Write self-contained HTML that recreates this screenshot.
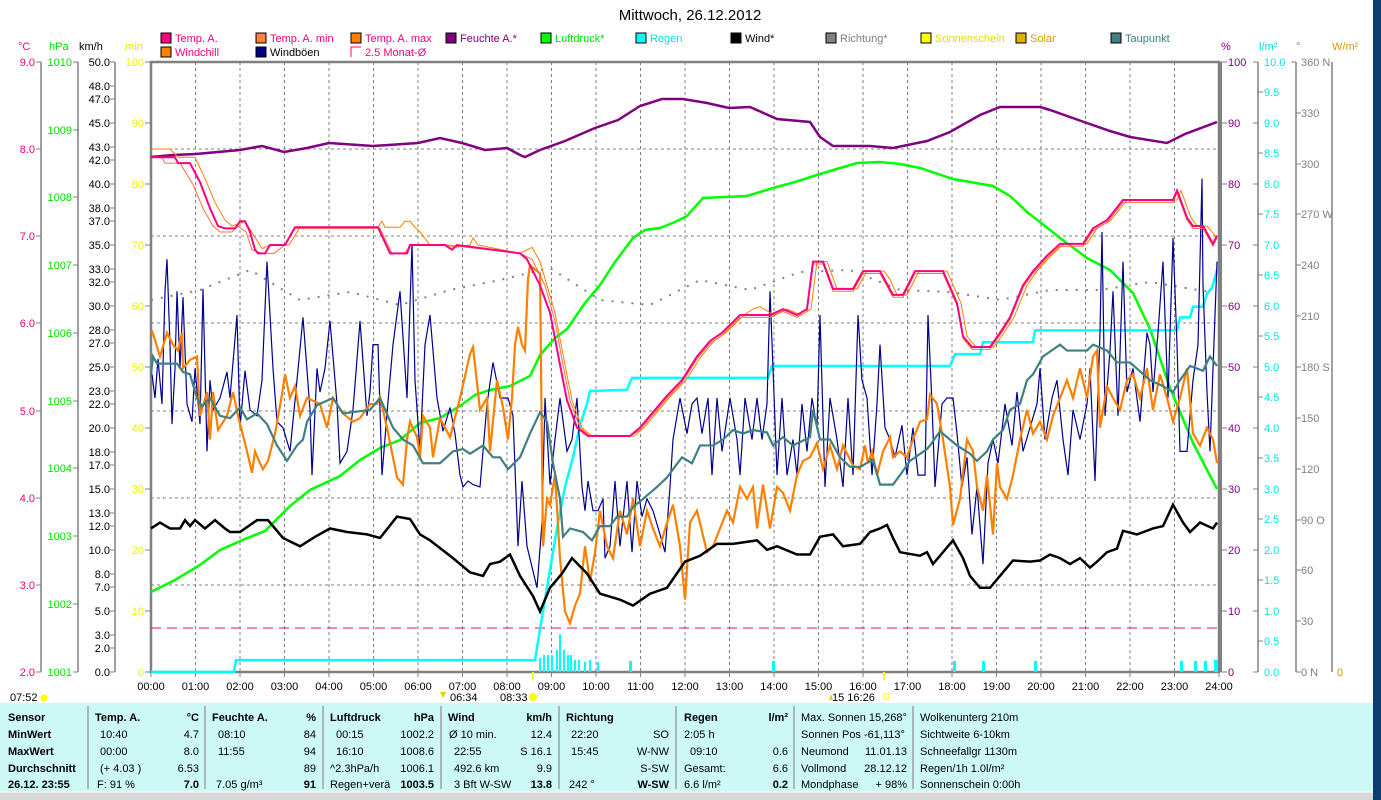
<!DOCTYPE html>
<html><head><meta charset="utf-8">
<style>
html,body{margin:0;padding:0;background:#fff;}
body{width:1381px;height:800px;overflow:hidden;position:relative;font-family:"Liberation Sans",sans-serif;}
svg text{font-family:"Liberation Sans",sans-serif;}
</style></head><body>
<svg width="1381" height="800" viewBox="0 0 1381 800" xmlns="http://www.w3.org/2000/svg" style="position:absolute;left:0;top:0">
<rect x="0" y="0" width="1381" height="800" fill="#fff"/>
<rect x="1373" y="0" width="8" height="800" fill="#0c3c70"/>
<text x="690" y="20" font-size="15" text-anchor="middle" fill="#000">Mittwoch, 26.12.2012</text>

<g font-size="11">
<rect x="161" y="33" width="10" height="10" fill="#ff0080" stroke="#000"/><text x="175" y="42" fill="#ff0080">Temp. A.</text>
<rect x="256" y="33" width="10" height="10" fill="#ff8040" stroke="#000"/><text x="270" y="42" fill="#ff0080">Temp. A. min</text>
<rect x="351" y="33" width="10" height="10" fill="#ff8000" stroke="#000"/><text x="365" y="42" fill="#ff0080">Temp. A. max</text>
<rect x="446" y="33" width="10" height="10" fill="#800080" stroke="#000"/><text x="460" y="42" fill="#800080">Feuchte A.*</text>
<rect x="541" y="33" width="10" height="10" fill="#00ff00" stroke="#000"/><text x="555" y="42" fill="#00e000">Luftdruck*</text>
<rect x="636" y="33" width="10" height="10" fill="#00ffff" stroke="#000"/><text x="650" y="42" fill="#00e0e0">Regen</text>
<rect x="731" y="33" width="10" height="10" fill="#000" stroke="#000"/><text x="745" y="42" fill="#000">Wind*</text>
<rect x="826" y="33" width="10" height="10" fill="#808080" stroke="#000"/><text x="840" y="42" fill="#808080">Richtung*</text>
<rect x="921" y="33" width="10" height="10" fill="#ffff00" stroke="#000"/><text x="935" y="42" fill="#e0e000">Sonnenschein</text>
<rect x="1016" y="33" width="10" height="10" fill="#e0b000" stroke="#000"/><text x="1030" y="42" fill="#d4a000">Solar</text>
<rect x="1111" y="33" width="10" height="10" fill="#408080" stroke="#000"/><text x="1125" y="42" fill="#408080">Taupunkt</text>
<rect x="161" y="47" width="10" height="10" fill="#ff8000" stroke="#000"/><text x="175" y="56" fill="#ff0080">Windchill</text>
<rect x="256" y="47" width="10" height="10" fill="#000080" stroke="#000"/><text x="270" y="56" fill="#000">Windböen</text>
<path d="M361 47 H351 V57" fill="none" stroke="#ff0080"/><text x="365" y="56" fill="#ff0080">2.5 Monat-Ø</text>
</g>

<g font-size="11">
<text x="18" y="50" fill="#ff0080">°C</text>
<text x="49" y="50" fill="#00e000">hPa</text>
<text x="79" y="50" fill="#000">km/h</text>
<text x="125" y="50" fill="#e8e800">min</text>
<text x="1221" y="50" fill="#800080">%</text>
<text x="1259" y="50" fill="#00e0e0">l/m²</text>
<text x="1296" y="50" fill="#808080">°</text>
<text x="1332" y="50" fill="#d4a000">W/m²</text>
</g>

<g stroke="#808080" stroke-width="1.5">
<line x1="41" y1="62" x2="41" y2="672"/>
<line x1="78" y1="62" x2="78" y2="672"/>
<line x1="115" y1="62" x2="115" y2="672"/>
<line x1="1258" y1="62" x2="1258" y2="672"/>
<line x1="1296" y1="62" x2="1296" y2="672"/>
<line x1="1332" y1="62" x2="1332" y2="672"/>
</g>
<g font-size="11" fill="#ff0080" text-anchor="end">
<text x="35" y="66">9.0</text><text x="35" y="153">8.0</text><text x="35" y="240">7.0</text><text x="35" y="327">6.0</text><text x="35" y="415">5.0</text><text x="35" y="502">4.0</text><text x="35" y="589">3.0</text><text x="35" y="676">2.0</text>
</g>
<g stroke="#808080"><path d="M36 62h5M36 149h5M36 236h5M36 323h5M36 411h5M36 498h5M36 585h5M36 672h5"/>
<path d="M73 62h5M73 130h5M73 197h5M73 265h5M73 333h5M73 401h5M73 468h5M73 536h5M73 604h5M73 672h5"/>
<path d="M110 62h5M110 86h5M110 99h5M110 123h5M110 147h5M110 160h5M110 184h5M110 208h5M110 221h5M110 245h5M110 269h5M110 282h5M110 306h5M110 330h5M110 343h5M110 367h5M110 391h5M110 404h5M110 428h5M110 452h5M110 465h5M110 489h5M110 513h5M110 526h5M110 550h5M110 574h5M110 587h5M110 611h5M110 635h5M110 648h5M110 672h5"/>
<path d="M145 62h6M145 123h6M145 184h6M145 245h6M145 306h6M145 367h6M145 428h6M145 489h6M145 550h6M145 611h6M145 672h6"/>
<path d="M1221 62h6M1221 123h6M1221 184h6M1221 245h6M1221 306h6M1221 367h6M1221 428h6M1221 489h6M1221 550h6M1221 611h6M1221 672h6"/>
<path d="M1253 62h5M1258 92h5M1253 123h5M1258 153h5M1253 184h5M1258 214h5M1253 245h5M1258 275h5M1253 306h5M1258 336h5M1253 367h5M1258 397h5M1253 428h5M1258 458h5M1253 489h5M1258 519h5M1253 550h5M1258 580h5M1253 611h5M1258 641h5M1253 672h5"/>
<path d="M1291 62h5M1296 113h5M1296 164h5M1296 214h5M1296 265h5M1296 316h5M1296 367h5M1296 418h5M1296 469h5M1296 520h5M1296 570h5M1296 621h5M1296 672h5"/>
</g>
<g font-size="11" fill="#00e000" text-anchor="end">
<text x="72" y="66">1010</text><text x="72" y="134">1009</text><text x="72" y="201">1008</text><text x="72" y="269">1007</text><text x="72" y="337">1006</text><text x="72" y="405">1005</text><text x="72" y="472">1004</text><text x="72" y="540">1003</text><text x="72" y="608">1002</text><text x="72" y="676">1001</text>
</g>
<g font-size="11" fill="#000" text-anchor="end">
<text x="110" y="66">50.0</text><text x="110" y="90">48.0</text><text x="110" y="103">47.0</text><text x="110" y="127">45.0</text><text x="110" y="151">43.0</text><text x="110" y="164">42.0</text><text x="110" y="188">40.0</text><text x="110" y="212">38.0</text><text x="110" y="225">37.0</text><text x="110" y="249">35.0</text><text x="110" y="273">33.0</text><text x="110" y="286">32.0</text><text x="110" y="310">30.0</text><text x="110" y="334">28.0</text><text x="110" y="347">27.0</text><text x="110" y="371">25.0</text><text x="110" y="395">23.0</text><text x="110" y="408">22.0</text><text x="110" y="432">20.0</text><text x="110" y="456">18.0</text><text x="110" y="469">17.0</text><text x="110" y="493">15.0</text><text x="110" y="517">13.0</text><text x="110" y="530">12.0</text><text x="110" y="554">10.0</text><text x="110" y="578">8.0</text><text x="110" y="591">7.0</text><text x="110" y="615">5.0</text><text x="110" y="639">3.0</text><text x="110" y="652">2.0</text><text x="110" y="676">0.0</text>
</g>
<g font-size="11" fill="#f0f000" text-anchor="end">
<text x="144" y="66">100</text><text x="144" y="127">90</text><text x="144" y="188">80</text><text x="144" y="249">70</text><text x="144" y="310">60</text><text x="144" y="371">50</text><text x="144" y="432">40</text><text x="144" y="493">30</text><text x="144" y="554">20</text><text x="144" y="615">10</text><text x="144" y="676">0</text>
</g>
<g font-size="11" fill="#800080">
<text x="1228" y="66">100</text><text x="1228" y="127">90</text><text x="1228" y="188">80</text><text x="1228" y="249">70</text><text x="1228" y="310">60</text><text x="1228" y="371">50</text><text x="1228" y="432">40</text><text x="1228" y="493">30</text><text x="1228" y="554">20</text><text x="1228" y="615">10</text><text x="1228" y="676">0</text>
</g>
<g font-size="11" fill="#00e8e8">
<text x="1264" y="66">10.0</text><text x="1264" y="96">9.5</text><text x="1264" y="127">9.0</text><text x="1264" y="157">8.5</text><text x="1264" y="188">8.0</text><text x="1264" y="218">7.5</text><text x="1264" y="249">7.0</text><text x="1264" y="279">6.5</text><text x="1264" y="310">6.0</text><text x="1264" y="340">5.5</text><text x="1264" y="371">5.0</text><text x="1264" y="401">4.5</text><text x="1264" y="432">4.0</text><text x="1264" y="462">3.5</text><text x="1264" y="493">3.0</text><text x="1264" y="523">2.5</text><text x="1264" y="554">2.0</text><text x="1264" y="584">1.5</text><text x="1264" y="615">1.0</text><text x="1264" y="645">0.5</text><text x="1264" y="676">0.0</text>
</g>
<g font-size="11" fill="#808080">
<text x="1301" y="66">360 N</text><text x="1301" y="117">330</text><text x="1301" y="168">300</text><text x="1301" y="218">270 W</text><text x="1301" y="269">240</text><text x="1301" y="320">210</text><text x="1301" y="371">180 S</text><text x="1301" y="422">150</text><text x="1301" y="473">120</text><text x="1301" y="524">90 O</text><text x="1301" y="574">60</text><text x="1301" y="625">30</text><text x="1301" y="676">0 N</text>
</g>
<text x="1337" y="676" font-size="11" fill="#d4a000">0</text>

<g stroke="#808080" stroke-dasharray="3,3" stroke-width="1">
<path d="M195.5 62V672M240 62V672M284.5 62V672M329 62V672M373.5 62V672M418 62V672M462.5 62V672M507 62V672M551.5 62V672M596 62V672M640.5 62V672M685 62V672M729.5 62V672M774 62V672M818.5 62V672M863 62V672M907.5 62V672M952 62V672M996.5 62V672M1041 62V672M1085.5 62V672M1130 62V672M1174.5 62V672"/>
<path d="M151 149H1219M151 236H1219M151 323H1219M151 411H1219M151 498H1219M151 585H1219"/>
</g>
<rect x="151" y="62" width="1068" height="610" fill="none" stroke="#808080" stroke-width="2.5"/>
<line x1="1221" y1="62" x2="1221" y2="672" stroke="#808080" stroke-width="2"/>
<g stroke="#808080"><path d="M151 672v5M195.5 672v5M240 672v5M284.5 672v5M329 672v5M373.5 672v5M418 672v5M462.5 672v5M507 672v5M551.5 672v5M596 672v5M640.5 672v5M685 672v5M729.5 672v5M774 672v5M818.5 672v5M863 672v5M907.5 672v5M952 672v5M996.5 672v5M1041 672v5M1085.5 672v5M1130 672v5M1174.5 672v5M1219 672v5"/></g>
<line x1="533" y1="672" x2="533" y2="680" stroke="#ffff00" stroke-width="2"/>
<line x1="884" y1="672" x2="884" y2="680" stroke="#ffff00" stroke-width="2"/>
<g font-size="11" fill="#000" text-anchor="middle">
<text x="151" y="690">00:00</text><text x="195.5" y="690">01:00</text><text x="240" y="690">02:00</text><text x="284.5" y="690">03:00</text><text x="329" y="690">04:00</text><text x="373.5" y="690">05:00</text><text x="418" y="690">06:00</text><text x="462.5" y="690">07:00</text><text x="507" y="690">08:00</text><text x="551.5" y="690">09:00</text><text x="596" y="690">10:00</text><text x="640.5" y="690">11:00</text><text x="685" y="690">12:00</text><text x="729.5" y="690">13:00</text><text x="774" y="690">14:00</text><text x="818.5" y="690">15:00</text><text x="863" y="690">16:00</text><text x="907.5" y="690">17:00</text><text x="952" y="690">18:00</text><text x="996.5" y="690">19:00</text><text x="1041" y="690">20:00</text><text x="1085.5" y="690">21:00</text><text x="1130" y="690">22:00</text><text x="1174.5" y="690">23:00</text><text x="1219" y="690">24:00</text>
</g>
<g font-size="11" fill="#000">
<text x="10" y="701">07:52</text><circle cx="44" cy="698" r="3.5" fill="#ffff00"/>
<text x="450" y="701">06:34</text><path d="M440 692 l3 6 l3 -6z" fill="#e0d000"/>
<text x="500" y="701">08:33</text><circle cx="533" cy="697" r="4" fill="#ffff00"/>
<text x="832" y="701">15 16:26</text><path d="M829 700 l2 -6 l2 6z" fill="#e0d000"/><rect x="884" y="694" width="5" height="5" fill="none" stroke="#ffff00"/>
</g>

<line x1="151" y1="628" x2="1219" y2="628" stroke="#ff0080" stroke-width="1" stroke-dasharray="10,6"/>

<polyline fill="none" stroke="#808080" stroke-width="2" stroke-dasharray="2,8" points="151,300 200,290 250,270 300,300 350,292 400,305 450,290 500,280 550,268 600,300 650,305 700,280 750,290 800,272 850,270 900,290 950,292 1000,300 1050,290 1100,290 1150,282 1210,292"/>

<polyline fill="none" stroke="#800080" stroke-width="2.5" points="151,157 173,155 196,154 240,150 262,146 284,152 307,148 329,143 373,146 418,143 440,138 462,143 485,150 507,148 520,155 525,157 540,150 565,141 595,128 618,120 640,106 662,99 683,99 707,103 729,108 750,107 777,119 810,122 820,137 833,146 870,146 893,148 927,141 950,132 980,115 1000,107 1040,107 1050,110 1084,122 1110,131 1130,137 1167,143 1185,134 1217,122"/>
<polyline fill="none" stroke="#00ff00" stroke-width="2.5" points="151,592 175,580 200,565 220,550 245,539 265,531 290,506 310,490 340,476 360,460 380,448 400,440 420,423 440,418 460,406 475,395 490,390 510,386 530,376 540,355 555,338 567,329 585,303 600,285 615,262 633,238 645,230 660,228 675,222 687,216 703,198 725,197 747,196 773,188 795,182 817,175 840,168 857,163 880,162 900,164 920,168 953,179 993,186 1010,196 1027,212 1045,226 1060,238 1087,258 1110,270 1133,293 1150,329 1170,388 1193,443 1217,489"/>

<g fill="#00ffff">
<rect x="539" y="658" width="2" height="14"/><rect x="543" y="655" width="2" height="17"/><rect x="547" y="655" width="2" height="17"/><rect x="551" y="655" width="2" height="17"/><rect x="556" y="650" width="2" height="22"/><rect x="559" y="634" width="2" height="38"/><rect x="563" y="650" width="2" height="22"/><rect x="567" y="655" width="2" height="17"/><rect x="570" y="655" width="2" height="17"/><rect x="574" y="660" width="2" height="12"/><rect x="578" y="660" width="2" height="12"/><rect x="584" y="662" width="2" height="10"/><rect x="589" y="660" width="2" height="12"/><rect x="597" y="662" width="2" height="10"/><rect x="629" y="661" width="3" height="11"/><rect x="772" y="661" width="3" height="11"/><rect x="953" y="661" width="3" height="11"/><rect x="982" y="661" width="3" height="11"/><rect x="1034" y="661" width="3" height="11"/><rect x="1180" y="661" width="3" height="11"/><rect x="1194" y="661" width="3" height="11"/><rect x="1204" y="661" width="3" height="11"/><rect x="1214" y="660" width="4" height="12"/>
</g>

<g transform="matrix(1 0 0 1.186 0 -11.16)" fill="none">
<polyline vector-effect="non-scaling-stroke" stroke="#00ffff" stroke-width="2.5" points="151,576 234,576 236,566 535,566 540,540 550,490 558,450 565,420 573,395 580,368 587,350 590,339 597,339 627,338 632,328 768,328 772,318 950,318 955,308 980,308 983,298 1033,298 1035,288 1177,288 1180,277 1190,277 1193,268 1203,268 1207,257 1212,252 1217,237"/>
<polyline vector-effect="non-scaling-stroke" stroke="#000090" stroke-width="1.2" points="152,325 155,345 158,312 162,350 165,255 167,228 170,300 172,367 175,320 177,255 180,320 183,260 187,350 192,365 195,320 200,367 203,253 207,390 210,330 213,355 220,345 227,323 230,345 237,275 240,370 245,322 250,355 257,360 262,330 267,230 273,320 277,365 283,370 290,390 297,330 303,277 310,355 312,410 317,320 320,340 325,320 330,280 337,350 340,400 347,390 353,355 360,280 367,360 370,340 373,300 378,300 382,410 388,348 393,300 400,255 407,345 412,215 415,330 420,390 425,300 430,275 437,345 443,373 450,353 455,375 460,410 463,420 468,415 473,418 480,420 487,350 493,315 500,345 508,345 513,360 518,470 522,415 527,470 537,505 542,450 545,345 550,418 555,380 560,345 567,390 572,380 577,345 582,420 585,440 588,415 593,440 598,440 603,430 605,480 610,470 615,415 620,470 627,415 632,475 637,415 642,445 647,430 653,440 660,460 665,475 670,420 673,380 680,345 687,375 692,350 697,345 702,375 708,345 712,410 717,345 722,390 730,345 737,380 740,410 745,345 752,380 757,345 762,380 767,350 770,255 773,320 777,410 782,345 787,410 793,380 797,410 802,350 807,390 812,345 817,370 820,275 825,420 830,345 837,380 843,420 848,345 853,410 858,275 862,330 867,345 872,410 877,350 880,300 885,370 890,380 895,395 902,368 907,410 913,370 918,410 925,410 928,275 932,350 935,420 942,350 947,345 953,345 957,375 962,420 967,395 972,460 977,420 983,485 988,400 993,380 998,400 1005,350 1012,385 1017,340 1023,390 1030,370 1037,350 1040,320 1045,380 1052,345 1057,330 1063,380 1068,410 1073,355 1080,380 1087,350 1090,320 1095,415 1100,290 1102,205 1105,360 1110,305 1113,255 1118,360 1123,230 1127,340 1133,320 1140,365 1147,290 1150,300 1153,340 1158,290 1163,230 1168,345 1173,210 1177,300 1180,390 1187,390 1193,330 1198,300 1202,160 1203,250 1207,340 1210,390 1213,320 1217,230"/>
<polyline vector-effect="non-scaling-stroke" stroke="#ff8000" stroke-width="2.2" points="152,288 160,310 167,290 173,300 178,305 182,290 183,320 190,313 197,310 200,360 207,340 210,380 213,340 218,372 227,360 233,340 238,360 247,390 252,408 255,390 260,400 263,405 268,398 275,375 282,342 285,325 290,345 295,335 300,360 307,345 320,350 327,370 333,345 343,358 353,365 360,362 370,350 377,350 380,344 387,370 397,412 403,418 407,380 410,365 417,378 420,395 423,360 430,370 433,395 440,362 450,378 460,345 470,308 473,302 480,355 487,345 490,390 497,330 503,353 508,380 512,345 515,300 518,285 522,300 525,305 528,245 530,233 540,240 543,470 547,430 550,435 555,410 560,480 565,525 570,535 575,520 580,510 585,470 590,500 595,475 600,440 607,470 613,480 620,440 627,460 633,430 640,470 647,440 653,455 660,470 667,450 673,435 680,470 685,515 690,450 697,440 707,475 713,470 720,455 727,440 733,450 740,420 747,430 753,420 757,455 763,418 770,455 777,420 783,425 790,440 797,410 803,398 810,395 817,383 823,405 830,385 837,405 843,385 853,402 860,405 865,385 868,400 872,390 877,410 883,390 890,378 893,395 900,390 907,395 913,380 920,365 927,363 930,342 937,350 943,380 950,420 953,452 960,430 967,380 973,390 977,420 983,440 987,410 993,460 997,400 1000,420 1007,430 1013,410 1020,380 1027,355 1033,375 1040,365 1047,380 1053,360 1060,345 1067,330 1073,345 1080,320 1087,345 1093,310 1097,305 1100,370 1107,335 1113,345 1120,355 1127,330 1133,325 1140,345 1147,320 1153,355 1160,325 1167,345 1173,365 1180,345 1187,320 1193,375 1200,385 1207,370 1213,380 1217,400"/>
<polyline vector-effect="non-scaling-stroke" stroke="#408080" stroke-width="2.2" points="151,325 153,310 157,316 177,316 183,323 190,325 197,345 202,352 210,345 220,360 230,362 240,353 247,363 257,358 267,367 277,385 287,398 297,385 303,380 307,365 317,351 333,345 343,358 370,355 380,345 393,370 403,380 413,385 423,400 440,400 453,390 463,388 470,392 483,385 493,395 500,395 508,405 520,395 530,375 540,357 547,365 553,400 560,430 563,462 570,455 583,458 592,465 600,453 610,453 617,445 627,445 633,437 643,430 657,420 667,412 673,405 682,395 692,400 700,385 713,385 723,380 733,372 743,375 753,372 767,374 773,385 783,378 793,385 810,378 813,355 820,380 830,380 840,395 850,403 860,403 873,397 880,418 893,418 900,410 910,398 927,388 930,385 940,373 947,378 957,385 970,392 977,398 987,390 993,380 1003,372 1010,355 1020,350 1027,330 1033,325 1043,310 1060,300 1067,305 1087,305 1093,300 1107,305 1117,315 1130,315 1150,330 1163,335 1173,340 1180,330 1190,318 1203,322 1210,310 1217,318"/>
<polyline vector-effect="non-scaling-stroke" stroke="#000" stroke-width="2.5" points="151,455 160,450 170,455 180,455 185,448 190,453 195,448 205,455 215,448 225,455 230,458 240,458 257,448 268,448 283,463 300,470 315,462 330,455 347,458 367,460 380,463 397,445 410,447 420,460 430,465 453,480 470,492 483,495 490,485 500,483 510,477 520,495 533,512 540,525 550,505 562,493 572,480 587,493 600,510 620,515 633,520 650,510 667,505 685,483 700,478 717,468 733,468 757,465 767,473 777,470 797,477 810,477 820,462 833,460 843,470 860,468 870,458 880,455 887,452 893,463 900,475 920,478 927,475 933,485 953,465 963,480 970,495 980,505 990,505 997,498 1003,492 1013,482 1030,483 1040,482 1050,477 1060,480 1070,485 1080,480 1090,488 1097,483 1107,475 1117,472 1123,457 1137,460 1153,455 1163,453 1173,435 1183,450 1190,458 1200,450 1213,455 1217,450"/>
<polyline vector-effect="non-scaling-stroke" stroke="#ff8000" stroke-width="1" points="151,135 170,135 178,142 195,142 205,160 215,180 225,195 232,200 245,196 262,219 270,216 289,216 300,201 378,201 382,196 385,201 400,201 405,196 410,196 415,201 420,205 430,216 447,216 455,218 470,216 473,210 478,216 520,223 532,218 540,230 555,273 565,317 572,347 582,370 592,377 634,377 644,370 661,353 671,343 686,330 701,310 714,297 726,290 744,275 753,270 760,268 774,275 787,270 801,275 811,270 817,230 827,230 837,253 857,253 867,238 884,238 890,245 897,258 907,258 919,238 947,238 961,265 967,293 976,302 994,302 1004,290 1014,277 1027,250 1037,238 1051,225 1064,215 1087,215 1097,202 1111,195 1127,178 1177,178 1181,170 1191,193 1197,200 1207,200 1217,210"/>
<polyline vector-effect="non-scaling-stroke" stroke="#ff7040" stroke-width="1" points="151,142 162,142 165,147 180,147 193,165 203,185 213,200 220,205 232,205 238,200 246,205 252,220 262,223 274,223 285,216 295,202 380,202 392,223 405,223 410,216 447,216 520,223 532,228 545,250 555,280 563,317 570,347 580,370 590,377 630,377 640,372 657,355 667,345 682,332 697,312 710,299 722,292 740,277 770,277 783,272 797,277 807,272 813,232 823,232 833,255 853,255 863,240 880,240 893,260 903,260 915,240 943,240 957,267 963,295 972,304 990,304 1000,292 1010,279 1023,252 1033,240 1047,227 1060,217 1083,217 1093,204 1107,197 1123,180 1173,180 1177,172 1187,195 1193,202 1203,202 1213,217 1217,210"/>
<polyline vector-effect="non-scaling-stroke" stroke="#ff0080" stroke-width="2" points="151,142 175,142 178,147 190,147 200,163 210,185 218,200 225,202 235,202 240,196 245,196 250,205 255,220 258,223 265,223 270,216 285,216 295,201 378,201 390,223 407,223 410,216 445,216 452,220 457,216 520,223 527,228 540,250 550,273 560,317 567,347 577,370 588,377 630,377 640,370 657,353 667,343 682,330 697,310 710,297 722,290 740,275 770,275 783,270 797,275 807,270 813,230 823,230 833,253 853,253 863,238 880,238 893,258 903,258 915,238 943,238 957,265 963,293 972,302 990,302 1000,290 1010,277 1023,250 1033,238 1047,225 1060,215 1083,215 1093,202 1107,195 1123,178 1173,178 1177,170 1187,193 1193,200 1203,200 1213,215 1217,208"/>
</g>

<rect x="0" y="703" width="1373" height="89" fill="#ccf8f6"/>
<rect x="0" y="792" width="1373" height="8" fill="#d8d8d8"/>
<line x1="0" y1="792" x2="1373" y2="792" stroke="#fff"/>
<g stroke="#a0a0a0" stroke-width="1.5"><path d="M88 706V789M205 706V789M323 706V789M441 706V789M559 706V789M676 706V789M794 706V789M913 706V789"/></g>
<g font-size="11" fill="#000">
<g font-weight="bold">
<text x="8" y="721">Sensor</text><text x="8" y="738">MinWert</text><text x="8" y="755">MaxWert</text><text x="8" y="772">Durchschnitt</text><text x="8" y="788">26.12. 23:55</text>
<text x="95" y="721">Temp. A.</text><text x="199" y="721" text-anchor="end">°C</text>
<text x="212" y="721">Feuchte A.</text><text x="316" y="721" text-anchor="end">%</text>
<text x="330" y="721">Luftdruck</text><text x="434" y="721" text-anchor="end">hPa</text>
<text x="448" y="721">Wind</text><text x="552" y="721" text-anchor="end">km/h</text>
<text x="566" y="721">Richtung</text>
<text x="684" y="721">Regen</text><text x="788" y="721" text-anchor="end">l/m²</text>
<text x="199" y="788" text-anchor="end">7.0</text><text x="316" y="788" text-anchor="end">91</text><text x="434" y="788" text-anchor="end">1003.5</text><text x="552" y="788" text-anchor="end">13.8</text><text x="669" y="788" text-anchor="end">W-SW</text><text x="788" y="788" text-anchor="end">0.2</text>
</g>
<text x="100" y="738">10:40</text><text x="199" y="738" text-anchor="end">4.7</text>
<text x="100" y="755">00:00</text><text x="199" y="755" text-anchor="end">8.0</text>
<text x="100" y="772">(+ 4.03 )</text><text x="199" y="772" text-anchor="end">6.53</text>
<text x="97" y="788">F: 91 %</text>
<text x="218" y="738">08:10</text><text x="316" y="738" text-anchor="end">84</text>
<text x="218" y="755">11:55</text><text x="316" y="755" text-anchor="end">94</text>
<text x="316" y="772" text-anchor="end">89</text>
<text x="216" y="788">7.05 g/m³</text>
<text x="336" y="738">00:15</text><text x="434" y="738" text-anchor="end">1002.2</text>
<text x="336" y="755">16:10</text><text x="434" y="755" text-anchor="end">1008.6</text>
<text x="330" y="772">^2.3hPa/h</text><text x="434" y="772" text-anchor="end">1006.1</text>
<text x="330" y="788">Regen+verä</text>
<text x="449" y="738">Ø 10 min.</text><text x="552" y="738" text-anchor="end">12.4</text>
<text x="454" y="755">22:55</text><text x="552" y="755" text-anchor="end">S 16.1</text>
<text x="454" y="772">492.6 km</text><text x="552" y="772" text-anchor="end">9.9</text>
<text x="454" y="788">3 Bft W-SW</text>
<text x="571" y="738">22:20</text><text x="669" y="738" text-anchor="end">SO</text>
<text x="571" y="755">15:45</text><text x="669" y="755" text-anchor="end">W-NW</text>
<text x="669" y="772" text-anchor="end">S-SW</text>
<text x="569" y="788">242 °</text>
<text x="684" y="738">2:05 h</text>
<text x="690" y="755">09:10</text><text x="788" y="755" text-anchor="end">0.6</text>
<text x="684" y="772">Gesamt:</text><text x="788" y="772" text-anchor="end">6.6</text>
<text x="684" y="788">6.6 l/m²</text>
<text x="801" y="721">Max. Sonnen 15,268°</text>
<text x="801" y="738">Sonnen Pos  -61,113°</text>
<text x="801" y="755">Neumond</text><text x="907" y="755" text-anchor="end">11.01.13</text>
<text x="801" y="772">Vollmond</text><text x="907" y="772" text-anchor="end">28.12.12</text>
<text x="801" y="788">Mondphase</text><text x="907" y="788" text-anchor="end">+ 98%</text>
<text x="920" y="721">Wolkenunterg   210m</text>
<text x="920" y="738">Sichtweite     6-10km</text>
<text x="920" y="755">Schneefallgr   1130m</text>
<text x="920" y="772">Regen/1h       1.0l/m²</text>
<text x="920" y="788">Sonnenschein  0:00h</text>
</g>
</svg>
</body></html>
